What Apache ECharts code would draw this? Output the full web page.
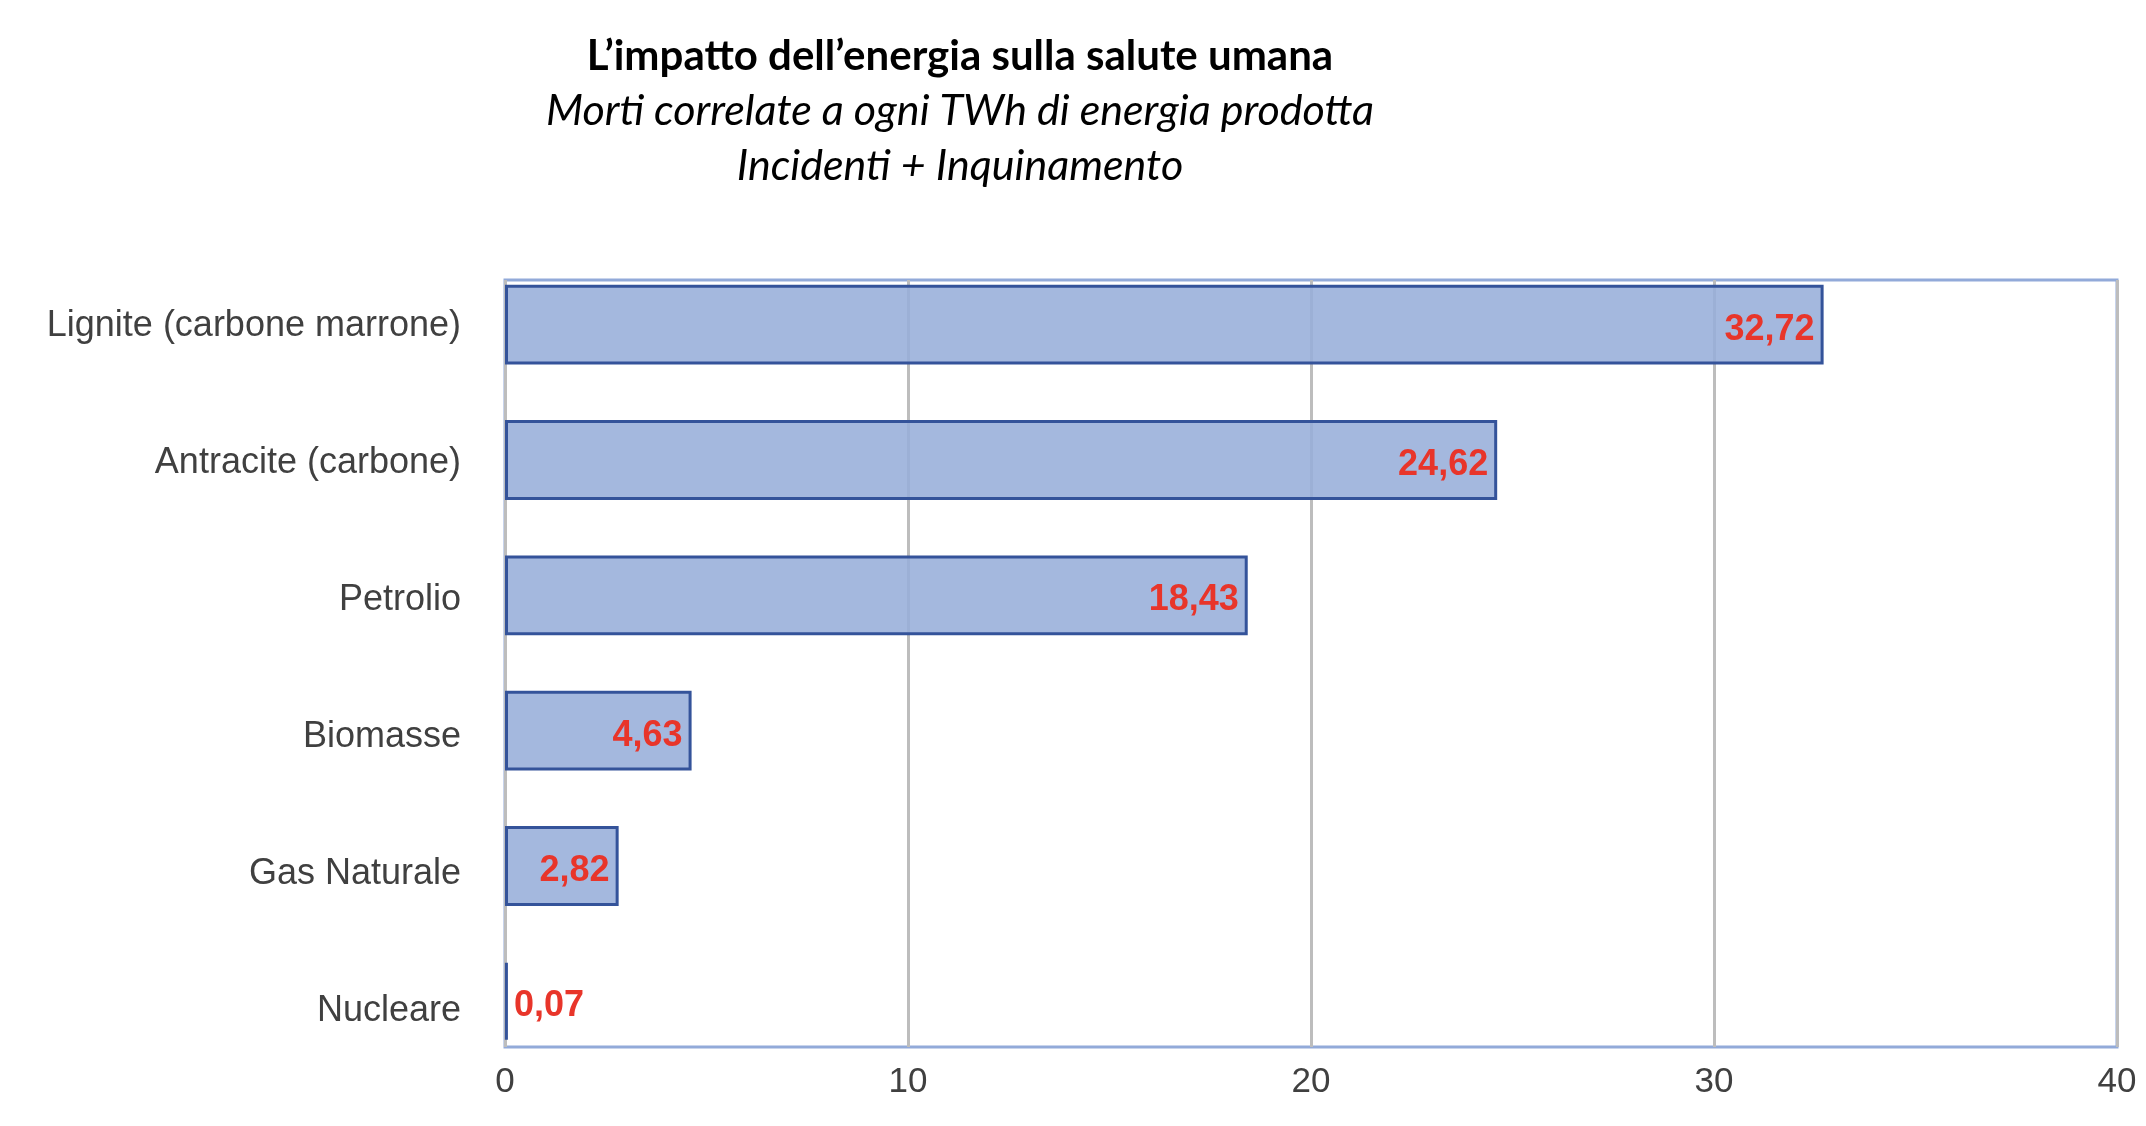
<!DOCTYPE html>
<html>
<head>
<meta charset="utf-8">
<script src="https://cdn.jsdelivr.net/npm/echarts@6/dist/echarts.min.js"></script>
<style>
html,body{margin:0;padding:0;background:#fff;}
#chart{width:2146px;height:1126px;}
</style>
</head>
<body>
<div id="chart"></div>
<script>
const categories = ['Lignite (carbone marrone)', 'Antracite (carbone)', 'Petrolio', 'Biomasse', 'Gas Naturale', 'Nucleare'];
const values = [32.72, 24.62, 18.43, 4.63, 2.82, 0.07];
const xTicks = [0, 10, 20, 30, 40];
const titleLine = 'L\u2019impatto dell\u2019energia sulla salute umana';
const subLine1 = 'Morti correlate a ogni TWh di energia prodotta';
const subLine2 = 'Incidenti + Inquinamento';

const chart = echarts.init(document.getElementById('chart'), null, {renderer: 'canvas'});
const fmt = v => v.toFixed(2).replace('.', ',');

const barData = values.map((v, i) => ({
  value: v,
  label: v < 1 ? { position: 'right', distance: 6 } : { position: 'insideRight' }
}));

chart.setOption({
  backgroundColor: '#ffffff',
  animation: false,
  graphic: [
    { type: 'text', x: 960, y: 56, style: { text: titleLine, font: 'bold 42px Lato', fill: '#000', align: 'center', verticalAlign: 'middle' } },
    { type: 'text', x: 960, y: 111, style: { text: subLine1, font: 'italic 43px Lato', fill: '#000', align: 'center', verticalAlign: 'middle' } },
    { type: 'text', x: 960, y: 166, style: { text: subLine2, font: 'italic 43px Lato', fill: '#000', align: 'center', verticalAlign: 'middle' } }
  ],
  grid: [
    { left: 505, top: 280, width: 1612, height: 767, show: true, borderColor: '#92aad9', borderWidth: 3, backgroundColor: 'transparent' },
    { left: 505, top: 257, width: 1612, height: 812 },
    { left: 505, top: 258, width: 1612, height: 821 }
  ],
  xAxis: [
    {
      gridIndex: 0, type: 'value', min: xTicks[0], max: xTicks[xTicks.length - 1], interval: 10,
      axisLine: { show: false }, axisTick: { show: false },
      splitLine: { show: true, lineStyle: { color: '#bdbdbd', width: 3 } },
      axisLabel: { fontFamily: 'Liberation Sans', fontSize: 35, color: '#404040', margin: 18 }
    },
    { gridIndex: 1, type: 'value', min: 0, max: 40, show: false },
    { gridIndex: 2, type: 'value', min: 0, max: 40, show: false }
  ],
  yAxis: [
    { gridIndex: 0, type: 'value', show: false, splitLine: { show: false } },
    {
      gridIndex: 1, type: 'category', inverse: true, data: categories, show: false
    },
    {
      gridIndex: 2, type: 'category', inverse: true, data: categories,
      axisLine: { show: false }, axisTick: { show: false }, splitLine: { show: false },
      axisLabel: { fontFamily: 'Liberation Sans', fontSize: 36, color: '#404040', margin: 44, padding: [5, 0, 0, 0] }
    }
  ],
  series: [{
    type: 'bar', xAxisIndex: 1, yAxisIndex: 1,
    data: barData,
    barWidth: '59%',
    itemStyle: { color: 'rgba(151,174,218,0.88)', borderColor: '#34539a', borderWidth: 3 },
    label: {
      show: true, distance: 9, offset: [0, 5],
      formatter: p => fmt(p.value),
      fontFamily: 'Liberation Sans', fontWeight: 'bold', fontSize: 36, color: '#e8352a'
    },
    z: 3
  }]
});
</script>
</body>
</html>
